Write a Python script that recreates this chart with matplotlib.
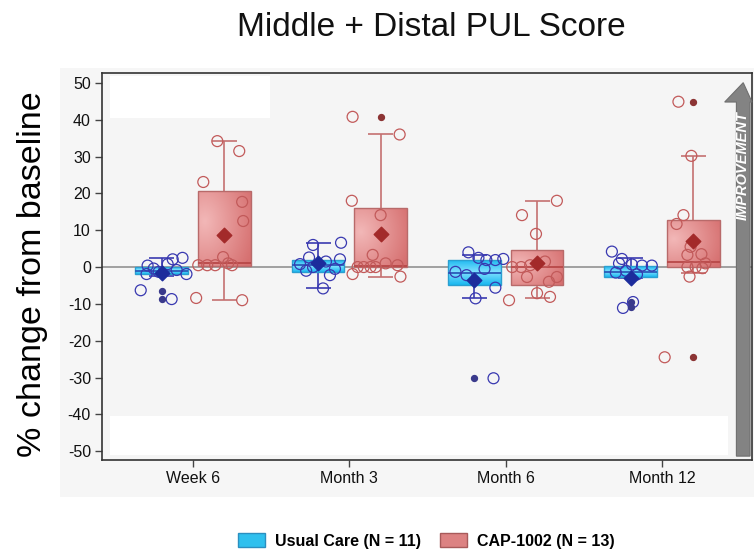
import matplotlib
matplotlib.use('Agg')
import matplotlib.pyplot as plt
import numpy as np
from matplotlib.patches import Rectangle, Polygon, Patch

plt.rcParams['font.family'] = ['Liberation Sans', 'DejaVu Sans']
plt.rcParams['axes.unicode_minus'] = False

visits = ["Week 6", "Month 3", "Month 6", "Month 12"]

# box stats per visit: (whisker low, q1, median, q3, whisker high, mean)
uc_stats = [(-2.3, -2.0, -1.0, 0.0, 2.5, -1.7),
            (-5.8, -1.3, 0.5, 1.9, 6.6, 1.0),
            (-8.5, -4.9, -1.7, 1.9, 3.4, -3.5),
            (-3.0, -2.6, -1.3, 0.3, 2.4, -2.9)]
cap_stats = [(-9.0, 0.4, 1.0, 20.6, 34.2, 8.7),
             (-2.6, 0.0, 0.3, 16.0, 36.0, 9.0),
             (-8.5, -4.9, 0.1, 4.6, 18.0, 1.0),
             (-1.7, 0.1, 1.5, 12.8, 30.2, 7.1)]

uc_outliers = [[-6.4, -8.7], [], [-30.2], [-9.5, -10.8]]
cap_outliers = [[], [40.8], [], [44.9, -24.5]]

# individual patients (% change)
uc_week6 = [-6.3, 0.4, -1.9, 0.8, 2.1, 2.5, -1.9, -8.7, -1.3, -0.4, -0.8]
uc_month3 = [6.0, 6.6, 2.6, 2.1, 0.0, -5.8, -2.2, -0.5, 0.8, 1.5, -1.0]
uc_month6 = [4.0, 2.5, 1.9, 1.9, 2.2, -1.3, -2.2, -5.6, -8.5, -30.2, -0.5]
uc_month12 = [4.2, 2.2, 0.7, 0.4, 0.4, -1.5, -2.0, -1.0, -9.5, -11.1, 1.0]
cap_week6 = [34.2, 31.5, 23.1, 17.7, 12.5, 2.7, 0.5, 0.5, 0.5, 0.5, -8.4, -9.0, 1.0]
cap_month3 = [40.8, 36.0, 18.0, 14.1, 3.3, 0.0, 0.0, 0.0, 0.0, 0.5, -1.9, -2.6, 1.0]
cap_month6 = [18.0, 14.1, 9.0, 0.0, 0.0, 0.5, -2.7, -2.7, -9.0, -8.1, -7.1, 1.5, -4.0]
cap_month12 = [44.9, 30.2, 14.1, 11.7, 5.5, 3.5, 3.3, 0.0, 0.0, -0.3, -2.6, -24.5, 1.0]
uc_points = [uc_week6, uc_month3, uc_month6, uc_month12]
cap_points = [cap_week6, cap_month3, cap_month6, cap_month12]

# horizontal jitter as a fraction of the half box width
uc_jitter = [[-0.79, -0.53, -0.57, 0.23, 0.42, 0.79, 0.94, 0.38, -0.11, -0.30, 0.57],
             [-0.19, 0.87, -0.34, 0.83, -0.19, 0.19, 0.45, 0.64, -0.68, 0.30, -0.45],
             [-0.23, 0.15, 0.45, 0.79, 1.09, -0.72, -0.30, 0.79, 0.04, 0.72, 0.38],
             [-0.72, -0.34, 0.04, 0.42, 0.79, -0.57, 0.23, -0.19, 0.08, -0.30, -0.45]]
cap_jitter = [[-0.26, 0.57, -0.79, 0.68, 0.72, -0.04, -0.98, -0.64, -0.34, 0.30, -1.06, 0.68, 0.15],
              [-1.06, 0.72, -1.09, 0.0, -0.30, -0.87, -0.64, -0.38, -0.19, 0.64, -1.06, 0.75, 0.19],
              [0.75, -0.57, -0.04, -0.94, -0.60, -0.26, -0.38, 0.75, -1.06, 0.49, 0.0, 0.30, 0.45],
              [-0.57, -0.08, -0.38, -0.64, -0.11, 0.30, -0.23, -0.23, 0.08, 0.34, -0.15, -1.09, 0.45]]

OFFSET = 0.2
HALF_W = 0.169
CAP_W = 0.08

blue = dict(edge='#2b9fd0', line='#3a3ab0', circ='#3838b0', mean='#1c2c9c',
            dot='#3a3a8c', med='#2a5cb8')
red = dict(edge='#b86a6a', line='#c47070', circ='#c25a5a', mean='#a32a2a',
           dot='#8c3434', med='#b84848')

fig = plt.figure(figsize=(7.54, 5.55), dpi=100)
fig.patch.set_facecolor('white')
fig.patches.append(Rectangle((60 / 754, 1 - 497 / 555), 694 / 754, 429 / 555,
                             transform=fig.transFigure, facecolor='#f6f6f6',
                             edgecolor='none', zorder=-5))
ax = fig.add_axes([102 / 754, 95 / 555, 650 / 754, 387 / 555])
ax.set_facecolor('#f5f5f5')

# white patches seen in the plot background
for (x0, y0, w, h) in [(0.012, 0.884, 0.246, 0.108), (0.012, 0.013, 0.951, 0.101)]:
    ax.add_patch(Rectangle((x0, y0), w, h, transform=ax.transAxes,
                           facecolor='white', edgecolor='none', zorder=0))

ax.axhline(0, color='#9a9a9a', lw=1.3, zorder=1)


def gradient_box(cx, st, sty, kind):
    lo, q1, med, q3, hi, mean = st
    x0, x1 = cx - HALF_W, cx + HALF_W
    rect = Rectangle((x0, q1), x1 - x0, q3 - q1, facecolor='none',
                     edgecolor=sty['edge'], lw=1.0, zorder=3)
    ax.add_patch(rect)
    if kind == 'blue':
        t = np.linspace(0, 1, 40)[:, None]
        c0 = np.array([0.10, 0.72, 0.94])
        c1 = np.array([0.50, 0.88, 1.0])
        w = 1 - np.abs(t - 0.5) * 2
        img = c0 + (c1 - c0) * np.clip(w, 0, 1)[..., None]
        img = np.repeat(img, 10, axis=1)
    else:
        yy, xx = np.mgrid[0:40, 0:40] / 39.0
        d = np.sqrt((xx - 0.12) ** 2 + (yy - 0.6) ** 2)
        c0 = np.array([0.95, 0.72, 0.72])
        c1 = np.array([0.84, 0.44, 0.44])
        img = c0 + (c1 - c0) * np.clip(d / 1.0, 0, 1)[..., None]
    im = ax.imshow(img, extent=[x0, x1, q1, q3], origin='lower', aspect='auto',
                   interpolation='bilinear', zorder=2)
    im.set_clip_path(rect)
    ax.hlines(med, x0, x1, color=sty['med'], lw=1.3, zorder=3)
    ax.vlines(cx, q3, hi, color=sty['line'], lw=1.2, zorder=2.5)
    ax.vlines(cx, lo, q1, color=sty['line'], lw=1.2, zorder=2.5)
    ax.hlines([lo, hi], cx - CAP_W, cx + CAP_W, color=sty['line'], lw=1.2, zorder=2.5)


for i in range(len(visits)):
    pos = i + 1
    for cx, st, pts, jit, outs, sty, kind in [
            (pos - OFFSET, uc_stats[i], uc_points[i], uc_jitter[i], uc_outliers[i], blue, 'blue'),
            (pos + OFFSET, cap_stats[i], cap_points[i], cap_jitter[i], cap_outliers[i], red, 'red')]:
        gradient_box(cx, st, sty, kind)
        ax.scatter(cx + np.array(jit) * HALF_W, pts, s=62, facecolors='none',
                   edgecolors=sty['circ'], linewidths=0.9, zorder=4)
        if outs:
            ax.scatter([cx] * len(outs), outs, s=18, color=sty['dot'], zorder=5)
        ax.scatter([cx], [st[5]], marker='D', s=55, color=sty['mean'], zorder=6)

# improvement arrow on the right side
arrow = Polygon([(0.976, 0.010), (0.997, 0.010), (0.997, 0.925), (1.0, 0.925),
                 (0.9865, 0.975), (0.958, 0.925), (0.976, 0.925)],
                closed=True, transform=ax.transAxes, facecolor='#838383',
                edgecolor='#6f6f6f', lw=0.8, zorder=7, clip_on=False)
ax.add_patch(arrow)
ax.text(0.9865, 0.76, 'IMPROVEMENT', transform=ax.transAxes, rotation=90,
        color='white', fontsize=10.5, fontweight='bold', fontstyle='italic',
        ha='center', va='center', zorder=8)

ax.set_xlim(0.419, 4.574)
ax.set_ylim(-52.4, 52.7)
ax.set_xticks(range(1, len(visits) + 1))
ax.set_xticklabels(visits)
ax.set_yticks(range(-50, 51, 10))
ax.tick_params(axis='both', labelsize=11.5, length=5, width=1, color='#444444',
               labelcolor='#111111', pad=3)
for sp in ax.spines.values():
    sp.set_color('#333333')
    sp.set_linewidth(1.2)

ax.set_ylabel('% change from baseline', fontsize=24.5)
ax.yaxis.set_label_coords(-0.083, 0.48)
fig.text(431 / 754, 1 - 27 / 555, 'Middle + Distal PUL Score', fontsize=24,
         ha='center', va='center', color='#111111')

handles = [Patch(facecolor='#2fc0ee', edgecolor='#2b8fc0', label='Usual Care (N = 11)'),
           Patch(facecolor='#dc8282', edgecolor='#a85a5a', label='CAP-1002 (N = 13)')]
fig.legend(handles=handles, loc='center', bbox_to_anchor=(426 / 754, 1 - 541 / 555),
           ncol=2, frameon=False, prop={'weight': 'bold', 'size': 11.5},
           handlelength=1.7, handleheight=1.0, columnspacing=1.2, handletextpad=0.6)

fig.savefig('out.png', dpi=100)
